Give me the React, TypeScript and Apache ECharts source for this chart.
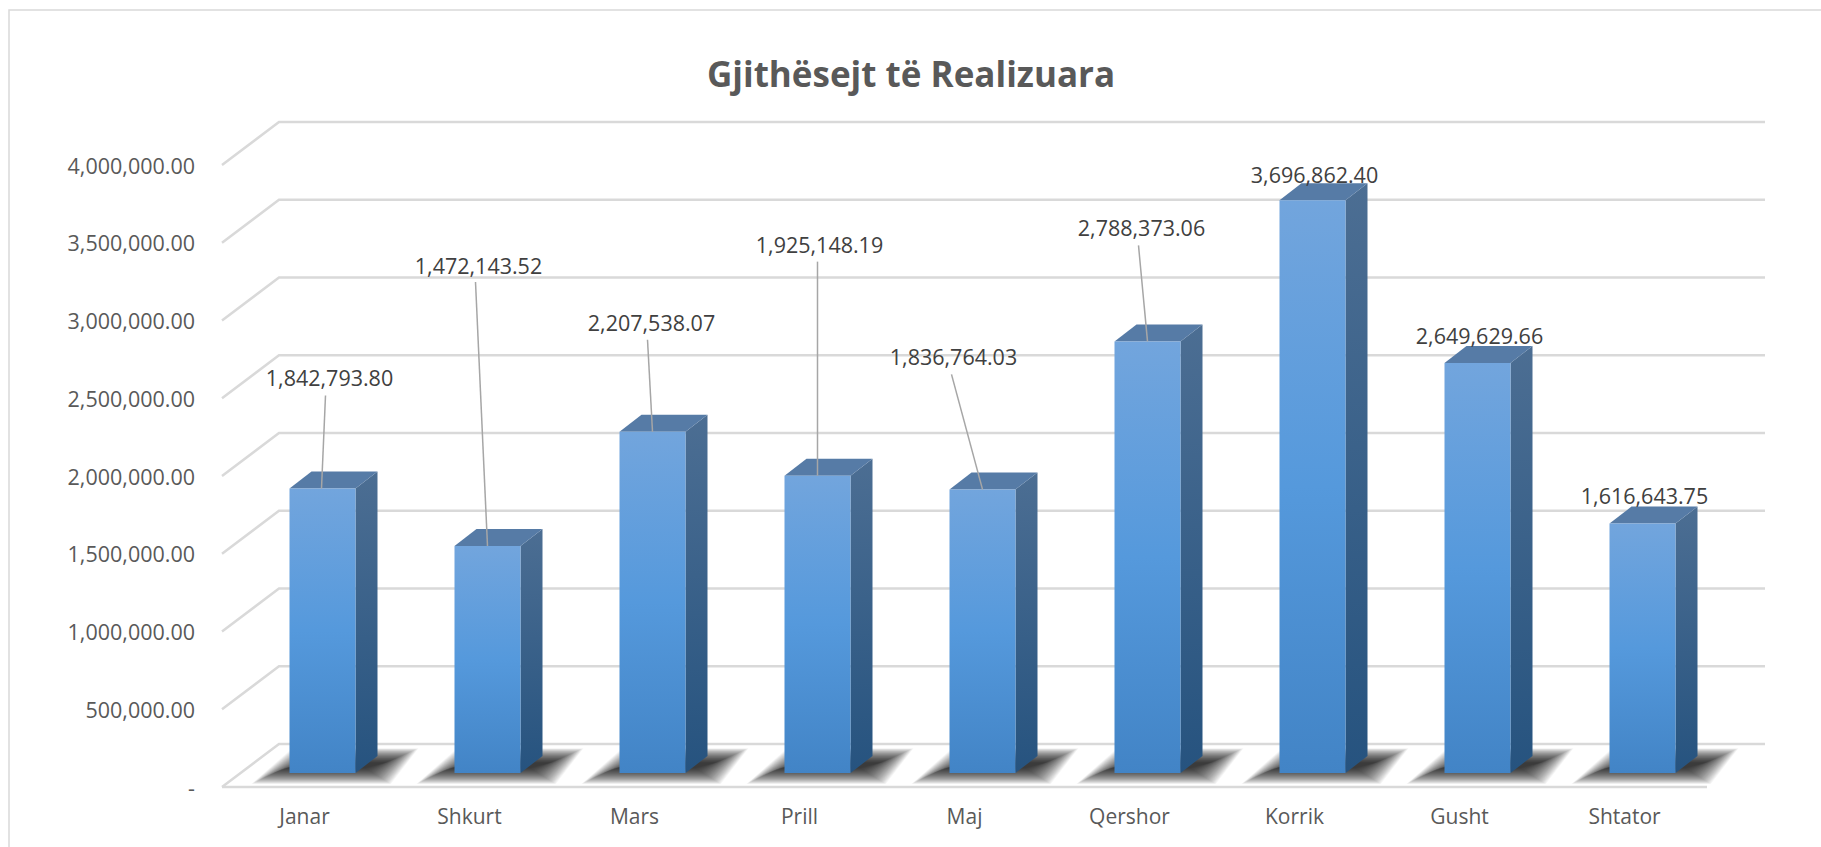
import React, { useEffect, useRef } from "react";
import * as echarts from "echarts";

const categories = ["Janar", "Shkurt", "Mars", "Prill", "Maj", "Qershor", "Korrik", "Gusht", "Shtator"];
const values = [1842793.8, 1472143.52, 2207538.07, 1925148.19, 1836764.03, 2788373.06, 3696862.4, 2649629.66, 1616643.75];
const ticks = [0, 500000, 1000000, 1500000, 2000000, 2500000, 3000000, 3500000, 4000000];
// Hand-placed data label offsets from the bar's top centre: [label dx, label dy, line start dx, line start dy, line end dx, line end dy]
const labelPlacement: (number[])[] = [
  [7, -111, 3, -93, -1, 0],
  [-9, -281, -12, -264, 0, 0],
  [-1, -109, -5, -92, 0, 0],
  [2, -231, 0, -214, 0, 0],
  [-29, -133, -31, -115, 0, 0],
  [-6, -114, -9, -96, 0, 0],
  [2, -26],
  [2, -27],
  [2, -28],
];

const FONT = "'Open Sans', 'Noto Sans', sans-serif";
const DX_FRONT = 18, DY_FRONT = 14, DY_TOP = 12; // bar front face relative to the axis plane
const DEPTH_X = 22, DEPTH_Y = 17;
const BACK_X = 57, BACK_Y = 43;
const BAR_W = 66;

const fmt = (v: number) => v.toLocaleString("en-US", { minimumFractionDigits: 2, maximumFractionDigits: 2 });
const vGrad = (a: string, b: string, mid?: string) =>
  new echarts.graphic.LinearGradient(0, 0, 0, 1, mid
    ? [{ offset: 0, color: a }, { offset: 0.5, color: mid }, { offset: 1, color: b }]
    : [{ offset: 0, color: a }, { offset: 1, color: b }]);

export default function App() {
  const ref = useRef<HTMLDivElement>(null);
  useEffect(() => {
    const chart = echarts.init(ref.current!, undefined, { renderer: "svg" });
    chart.setOption({
      animation: false,
      backgroundColor: "#ffffff",
      title: {
        text: "Gjithësejt të Realizuara",
        left: 906,
        top: 51,
        textAlign: "center",
        textStyle: { fontFamily: FONT, fontWeight: "bold", fontSize: 35, color: "#595959" },
      },
      graphic: [{
        type: "rect", z: -1, silent: true,
        shape: { x: 9, y: 10, width: 1900, height: 900 },
        style: { fill: "none", stroke: "#d9d9d9", lineWidth: 1.5 },
      }],
      grid: { left: 222, top: 165, width: 1485, height: 622, containLabel: false },
      xAxis: {
        type: "category",
        data: categories,
        axisLine: { show: false },
        axisTick: { show: false },
        axisLabel: { fontFamily: FONT, fontSize: 21, color: "#595959", margin: 18 },
      },
      yAxis: {
        type: "value",
        min: 0,
        max: 4000000,
        interval: 500000,
        axisLine: { show: false },
        axisTick: { show: false },
        splitLine: { show: false },
        axisLabel: {
          fontFamily: FONT, fontSize: 21.5, color: "#595959", margin: 27,
          formatter: (v: number) => (v === 0 ? "-" : fmt(v)),
        },
      },
      series: [
        {
          // walls and floor gridlines
          type: "custom",
          coordinateSystem: "cartesian2d",
          z: 1,
          silent: true,
          clip: false,
          data: ticks.map((t) => [0, t]),
          encode: { x: 0, y: 1 },
          renderItem: (_p: any, api: any) => {
            const p = api.coord([0, api.value(1)]);
            const x0 = 222;
            const x1 = x0 + 1485;
            const y = p[1];
            const style = { fill: "none", stroke: "#d9d9d9", lineWidth: 2.5 };
            const children: any[] = [{
              type: "polyline",
              shape: { points: [[x0, y], [x0 + BACK_X, y - BACK_Y], [x1 + BACK_X + 1, y - BACK_Y]] },
              style,
            }];
            if (api.value(1) === 0) {
              children.push({ type: "line", shape: { x1: x0, y1: y, x2: x1, y2: y }, style });
            }
            return { type: "group", children };
          },
        },
        {
          // soft cast shadows on the floor, built up from stacked translucent layers
          type: "custom",
          coordinateSystem: "cartesian2d",
          z: 2,
          silent: true,
          clip: false,
          data: values.map((v, i) => [i, v]),
          encode: { x: 0, y: 1 },
          renderItem: (_p: any, api: any) => {
            const base = api.coord([api.value(0), 0]);
            const xl = base[0] + DX_FRONT - BAR_W / 2;
            const y = base[1] - DY_FRONT;
            const children: any[] = [];
            for (let e = 24; e >= -8; e -= 1) {
              children.push({
                type: "polygon",
                shape: {
                  points: [
                    [xl - 14 - e, y - 1 + e * 0.5],
                    [xl + 82 + e * 0.8, y - 1 + e * 0.5],
                    [xl + 105 + e, y - 14 - e * 0.45],
                    [xl + 22 - e * 0.8, y - 14 - e * 0.45],
                  ],
                },
                style: { fill: "rgba(0,0,0,0.04)" },
              });
            }
            return { type: "group", children };
          },
        },
        {
          // bars
          type: "custom",
          coordinateSystem: "cartesian2d",
          z: 3,
          silent: true,
          clip: false,
          data: values.map((v, i) => [i, v]),
          encode: { x: 0, y: 1 },
          renderItem: (_p: any, api: any) => {
            const i = api.value(0);
            const top = api.coord([i, api.value(1)]);
            const base = api.coord([i, 0]);
            const xl = top[0] + DX_FRONT - BAR_W / 2;
            const xr = xl + BAR_W;
            const yt = top[1] - DY_TOP;
            const yb = base[1] - DY_FRONT;
            return {
              type: "group",
              children: [
                {
                  type: "polygon",
                  shape: { points: [[xr, yt], [xr + DEPTH_X, yt - DEPTH_Y], [xr + DEPTH_X, yb - DEPTH_Y], [xr, yb]] },
                  style: { fill: vGrad("#4c6e93", "#26537f") },
                },
                {
                  type: "polygon",
                  shape: { points: [[xl, yt], [xl + DEPTH_X, yt - DEPTH_Y], [xr + DEPTH_X, yt - DEPTH_Y], [xr, yt]] },
                  style: { fill: "#567ba6" },
                },
                {
                  type: "rect",
                  shape: { x: xl, y: yt, width: BAR_W, height: yb - yt },
                  style: { fill: vGrad("#72a5dd", "#4284c6", "#5599dc") },
                },
              ],
            };
          },
        },
        {
          // data labels with leader lines
          type: "custom",
          coordinateSystem: "cartesian2d",
          z: 4,
          silent: true,
          clip: false,
          data: values.map((v, i) => [i, v]),
          encode: { x: 0, y: 1 },
          renderItem: (_p: any, api: any) => {
            const i = api.value(0);
            const v = api.value(1);
            const top = api.coord([i, v]);
            const cx = top[0] + DX_FRONT;
            const cy = top[1] - DY_TOP;
            const pl = labelPlacement[i];
            const children: any[] = [];
            if (pl.length > 2) {
              children.push({
                type: "line",
                shape: { x1: cx + pl[2], y1: cy + pl[3], x2: cx + pl[4], y2: cy + pl[5] },
                style: { stroke: "#a6a6a6", lineWidth: 1.5 },
              });
            }
            children.push({
              type: "text",
              style: {
                x: cx + pl[0],
                y: cy + pl[1],
                text: fmt(v),
                align: "center",
                verticalAlign: "middle",
                fontFamily: FONT,
                fontSize: 21.5,
                fill: "#404040",
              },
            });
            return { type: "group", children };
          },
        },
      ],
    });
    return () => chart.dispose();
  }, []);
  return <div ref={ref} style={{ position: "fixed", left: 0, top: 0, width: 1821, height: 847 }} />;
}
